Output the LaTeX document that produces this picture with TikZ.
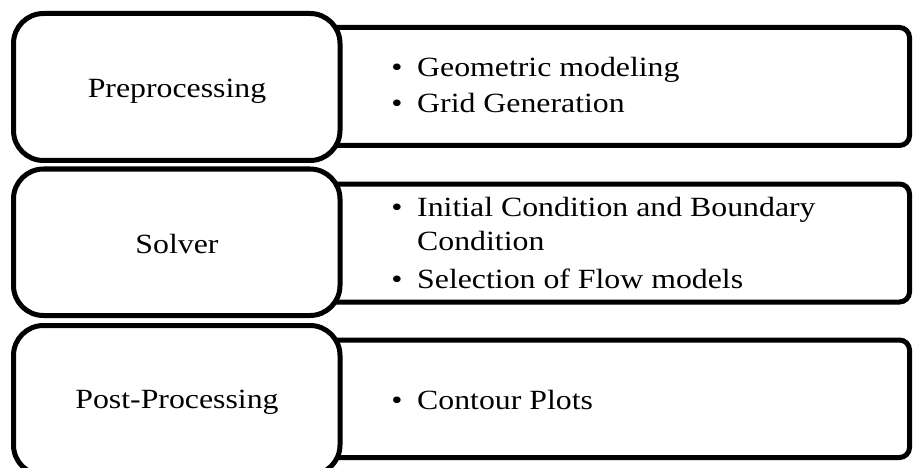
\documentclass[tikz,border=0pt]{standalone}
\usepackage{fontspec}
\setmainfont[FakeStretch=1.144]{Liberation Serif}
\begin{document}
\begin{tikzpicture}[x=1pt,y=-1pt,
  leftbox/.style={draw=black, line width=5pt, fill=white, rectangle, rounded corners=30pt,
                  minimum width=326.5pt, inner sep=0pt},
  rightbox/.style={draw=black, line width=5pt, rounded corners=10pt},
  lbl/.style={font=\fontsize{27.8}{34}\selectfont, inner sep=0pt, anchor=base},
  item/.style={font=\fontsize{27.8}{34}\selectfont, inner sep=0pt, anchor=base west},
  bul/.style={font=\fontsize{27.8}{34}\selectfont, inner sep=0pt, anchor=base}
]
\useasboundingbox (0,0) rectangle (913,468);

% right-hand boxes (left side hidden under the left boxes)
\coordinate (r1a) at (330,27.5);  \coordinate (r1b) at (330,145.5);
\coordinate (r2a) at (330,184);   \coordinate (r2b) at (330,302);
\coordinate (r3a) at (330,340);   \coordinate (r3b) at (330,457.5);
\draw[rightbox] (r1a) -- (909.5,27.5) -- (909.5,145.5) -- (r1b);
\draw[rightbox] (r2a) -- (909.5,184) -- (909.5,302) -- (r2b);
\draw[rightbox] (r3a) -- (909.5,340) -- (909.5,457.5) -- (r3b);

% left-hand boxes
\node[leftbox, minimum height=147pt]   (b1) at (176.75,87) {};
\node[leftbox, minimum height=146.5pt] (b2) at (176.75,242.25) {};
\node[leftbox, minimum height=149.5pt] (b3) at (176.75,400.25) {};

% left labels
\node[lbl] (t1) at (177,98)  {Preprocessing};
\node[lbl] (t2) at (177,253) {Solver};
\node[lbl] (t3) at (177,408) {Post-Processing};

% bullet items
\node[bul]  (d11) at (397,77)  {•};
\node[item] (i11) at (417,77)  {Geometric modeling};
\node[bul]  (d12) at (397,113) {•};
\node[item] (i12) at (417,113) {Grid Generation};

\node[bul]  (d21) at (397,216) {•};
\node[item] (i21) at (417,216) {Initial Condition and Boundary};
\node[item] (i22) at (417,250) {Condition};
\node[bul]  (d23) at (397,288) {•};
\node[item] (i23) at (417,288) {Selection of Flow models};

\node[bul]  (d31) at (397,409) {•};
\node[item] (i31) at (417,409) {Contour Plots};
\end{tikzpicture}
\end{document}
